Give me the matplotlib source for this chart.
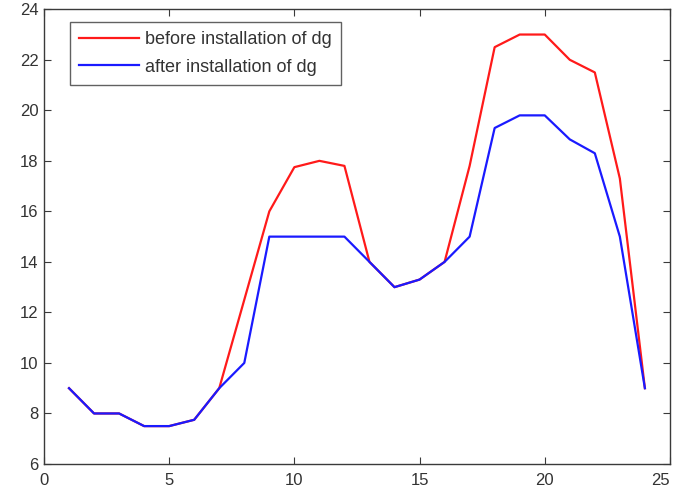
import matplotlib
matplotlib.use("Agg")
import matplotlib.pyplot as plt

# Hourly load before and after DG installation
hours = list(range(1, 25))
before_dg = [9, 8, 8, 7.5, 7.5, 7.75, 9, 12.5, 16, 17.75, 18, 17.8,
             14, 13, 13.3, 14, 17.8, 22.5, 23, 23, 22, 21.5, 17.3, 9]
after_dg = [9, 8, 8, 7.5, 7.5, 7.75, 9, 10, 15, 15, 15, 15,
            14, 13, 13.3, 14, 15, 19.3, 19.8, 19.8, 18.85, 18.3, 15, 9]

x_ticks = [0, 5, 10, 15, 20, 25]
y_ticks = [6, 8, 10, 12, 14, 16, 18, 20, 22, 24]

plt.rcParams["font.family"] = ["Liberation Sans", "DejaVu Sans"]

fig = plt.figure(figsize=(6.85, 4.88), dpi=100)
ax = fig.add_axes([0.0642, 0.0492, 0.9138, 0.9318])

ax.plot(hours, before_dg, color="#ff1a1a", lw=1.6, label="before installation of dg")
ax.plot(hours, after_dg, color="#1a1aff", lw=1.6, label="after installation of dg")

ax.set_xlim(0, 25)
ax.set_ylim(6, 24)
ax.set_xticks(x_ticks)
ax.set_yticks(y_ticks)

axis_color = "#3a3a3a"
for side in ax.spines.values():
    side.set_color(axis_color)
    side.set_linewidth(1.0)
ax.tick_params(direction="in", length=5, width=0.8, color=axis_color,
               top=True, right=True, labelsize=12, labelcolor="#333333")
ax.tick_params(axis="x", pad=6.5)
ax.tick_params(axis="y", pad=4)

# keep the last x label inside the figure edge
fig.canvas.draw()
ax.get_xticklabels()[-1].set_horizontalalignment("right")

leg = ax.legend(loc="upper left", bbox_to_anchor=(0.0415, 0.973),
                fontsize=13, frameon=True, fancybox=False, shadow=False,
                handlelength=3.3, handletextpad=0.35, borderpad=0.52,
                labelspacing=0.6, borderaxespad=0)
leg.get_frame().set_edgecolor(axis_color)
leg.get_frame().set_linewidth(1.0)
for t in leg.get_texts():
    t.set_color("#333333")

fig.savefig("out.png", dpi=100)
